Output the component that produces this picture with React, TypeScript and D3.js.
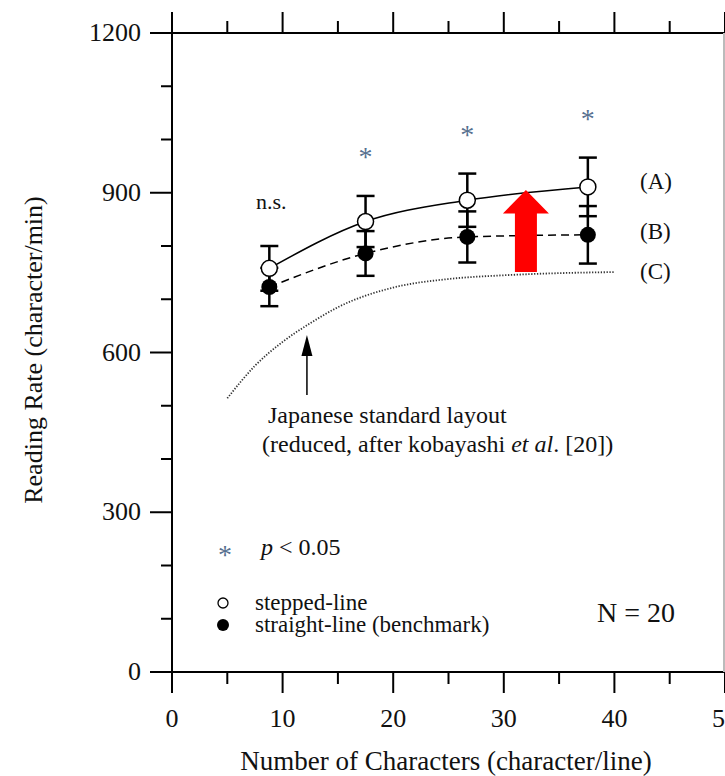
import React from 'react';
import * as d3 from 'd3';

// characters per line at the four measured conditions
const charsPerLine = [8.8, 17.5, 26.7, 37.6];
// (A) stepped-line, mean and error
const steppedMean = [758, 846, 886, 911];
const steppedErr = [42, 48, 50, 55];
// (B) straight-line (benchmark)
const straightMean = [723, 786, 817, 821];
const straightErr = [36, 42, 48, 54];
const sigLabels = ['n.s.', '*', '*', '*'];
// (C) Japanese standard layout, reduced
const standardX = [5, 7.5, 10, 12.5, 15, 20, 25, 30, 35, 40];
const standardY = [514, 575, 620, 655, 685, 722, 738, 745, 749, 751];

const xMajor = [0, 10, 20, 30, 40, 50];
const xMinor = [5, 15, 25, 35, 45];
const yMajor = [0, 300, 600, 900, 1200];
const yMinor = [100, 200, 400, 500, 700, 800, 1000, 1100];

const FONT = '"Liberation Serif", "Times New Roman", serif';

export default function App() {
  const width = 725;
  const height = 776;
  const x = d3.scaleLinear().domain([0, 50]).range([172, 725]);
  const y = d3.scaleLinear().domain([0, 1200]).range([672, 33]);
  const x0 = x(0), x1 = x(50), yTop = y(1200), yBot = y(0);

  const line = d3.line<[number, number]>()
    .x(d => x(d[0]))
    .y(d => y(d[1]))
    .curve(d3.curveMonotoneX);

  const stepped = charsPerLine.map((c, i) => [c, steppedMean[i]] as [number, number]);
  const straight = charsPerLine.map((c, i) => [c, straightMean[i]] as [number, number]);
  const standard = standardX.map((c, i) => [c, standardY[i]] as [number, number]);

  const errBar = (cx: number, m: number, e: number, key: string) => (
    <g key={key} stroke="#000" strokeWidth={2.5}>
      <line x1={x(cx)} x2={x(cx)} y1={y(m - e)} y2={y(m + e)} />
      <line x1={x(cx) - 9} x2={x(cx) + 9} y1={y(m + e)} y2={y(m + e)} />
      <line x1={x(cx) - 9} x2={x(cx) + 9} y1={y(m - e)} y2={y(m - e)} />
    </g>
  );

  // red block arrow at x = 32, from 751 up to 905
  const ax = x(32), aTip = y(905), aBase = y(861), aBot = y(751);
  const redArrow = [
    [ax, aTip], [ax + 23, aBase], [ax + 11, aBase], [ax + 11, aBot],
    [ax - 11, aBot], [ax - 11, aBase], [ax - 23, aBase],
  ].map(p => p.join(',')).join(' ');

  const bx = x(12.2), bTop = y(633), bBot = y(520);

  return (
    <svg width={width} height={height} style={{ position: 'absolute', left: 0, top: 0, background: '#fff' }} fontFamily={FONT}>
      {/* frame */}
      <g stroke="#000" strokeWidth={2} fill="none">
        <line x1={x0} x2={x1} y1={yBot} y2={yBot} />
        <line x1={x0} x2={x1} y1={yTop} y2={yTop} />
        <line x1={x0} x2={x0} y1={yTop} y2={yBot} />
        <line x1={x1 - 1} x2={x1 - 1} y1={yTop} y2={yBot} stroke="#bbb" />
        {xMajor.map(t => (
          <g key={'xm' + t}>
            <line x1={x(t)} x2={x(t)} y1={yBot} y2={yBot + 21} />
            <line x1={x(t)} x2={x(t)} y1={yTop} y2={yTop - 21} />
          </g>
        ))}
        {xMinor.map(t => (
          <g key={'xn' + t}>
            <line x1={x(t)} x2={x(t)} y1={yBot} y2={yBot + 12} />
            <line x1={x(t)} x2={x(t)} y1={yTop} y2={yTop - 12} />
          </g>
        ))}
        {yMajor.map(t => <line key={'ym' + t} x1={x0 - 22} x2={x0} y1={y(t)} y2={y(t)} />)}
        {yMinor.map(t => <line key={'yn' + t} x1={x0 - 11} x2={x0} y1={y(t)} y2={y(t)} />)}
      </g>
      <g fontSize={26} fill="#111">
        {xMajor.map(t => (
          <text key={'xl' + t} x={x(t)} y={yBot + 55} textAnchor="middle">{t}</text>
        ))}
        {yMajor.map(t => (
          <text key={'yl' + t} x={141} y={y(t) + 8} textAnchor="end">{t}</text>
        ))}
      </g>
      <text x={446} y={770} fontSize={27} textAnchor="middle" fill="#111">Number of Characters (character/line)</text>
      <text transform="translate(42,350) rotate(-90)" fontSize={26} textAnchor="middle" fill="#111">Reading Rate (character/min)</text>

      {/* curves */}
      <path d={line(standard) ?? ''} fill="none" stroke="#333" strokeWidth={1.8} strokeDasharray="1.3,1.6" />
      <path d={line(stepped) ?? ''} fill="none" stroke="#000" strokeWidth={1.5} />
      <path d={line(straight) ?? ''} fill="none" stroke="#000" strokeWidth={1.5} strokeDasharray="8,5" />

      {charsPerLine.map((c, i) => errBar(c, steppedMean[i], steppedErr[i], 'es' + i))}
      {charsPerLine.map((c, i) => errBar(c, straightMean[i], straightErr[i], 'eb' + i))}
      {charsPerLine.map((c, i) => (
        <circle key={'os' + i} cx={x(c)} cy={y(steppedMean[i])} r={8} fill="#fff" stroke="#000" strokeWidth={1.5} />
      ))}
      {charsPerLine.map((c, i) => (
        <circle key={'fb' + i} cx={x(c)} cy={y(straightMean[i])} r={8} fill="#000" />
      ))}

      {/* significance marks */}
      {charsPerLine.map((c, i) => {
        const top = Math.max(steppedMean[i] + steppedErr[i], straightMean[i] + straightErr[i]) + 82;
        return sigLabels[i] === '*'
          ? <text key={'sg' + i} x={x(c)} y={y(top) + 14} textAnchor="middle" fontSize={28} fill="#56708f">*</text>
          : <text key={'sg' + i} x={x(c) + 2} y={y(top) + 7} textAnchor="middle" fontSize={22} fill="#111">{sigLabels[i]}</text>;
      })}

      <g fontSize={23} fill="#111">
        <text x={640} y={189}>(A)</text>
        <text x={640} y={239}>(B)</text>
        <text x={640} y={279}>(C)</text>
      </g>

      <polygon points={redArrow} fill="#ff0000" />

      {/* annotation arrow */}
      <line x1={bx} x2={bx} y1={bBot} y2={bTop + 18} stroke="#000" strokeWidth={1.5} />
      <polygon points={`${bx},${bTop} ${bx - 5.5},${bTop + 21} ${bx + 5.5},${bTop + 21}`} fill="#000" />
      <g fontSize={24} fill="#111">
        <text x={268} y={423}>Japanese standard layout</text>
        <text x={262} y={452}>(reduced, after kobayashi <tspan fontStyle="italic">et al</tspan>. [20])</text>
      </g>

      {/* legend */}
      <text x={225} y={564} textAnchor="middle" fontSize={28} fill="#56708f">*</text>
      <text x={261} y={555} fontSize={24} fill="#111"><tspan fontStyle="italic">p</tspan> &lt; 0.05</text>
      <circle cx={223} cy={603} r={5} fill="#fff" stroke="#000" strokeWidth={1.3} />
      <circle cx={223} cy={625} r={6} fill="#000" />
      <g fontSize={23} fill="#111">
        <text x={255} y={610}>stepped-line</text>
        <text x={255} y={632}>straight-line (benchmark)</text>
      </g>
      <text x={597} y={622} fontSize={28} fill="#111">N = 20</text>
    </svg>
  );
}
